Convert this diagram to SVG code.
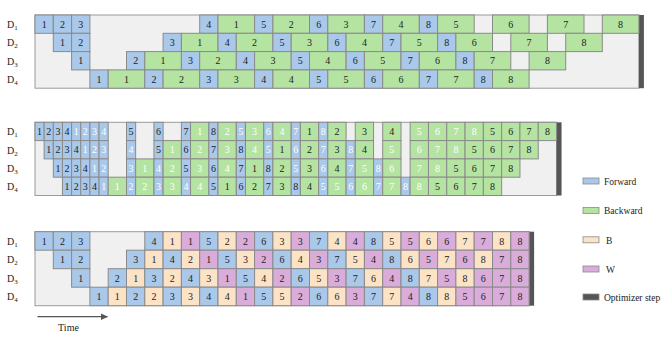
<svg xmlns="http://www.w3.org/2000/svg" width="668" height="338" viewBox="0 0 668 338" font-family="'Liberation Serif', 'Times New Roman', Times, serif">
<style>
.bg{fill:#f0f0f0;stroke:#9a9a9a;stroke-width:1}
.opt{fill:#555}
.c rect{stroke:#8a8a8a;stroke-width:1}
.F rect{fill:#a9c8ea}
.G rect{fill:#b5e3a2}
.P rect{fill:#fde3c6}
.W rect{fill:#d9acd9}
text{font-family:'Liberation Serif','Times New Roman',Times,serif;font-size:10px;text-anchor:middle;fill:#222}
.w text{fill:#fff}
.lab text,.leg text{text-anchor:start}
.leg text{font-size:9.5px}
.leg rect{stroke:#8a8a8a;stroke-width:0.8}
</style>
<defs>
<marker id="ah" markerWidth="8" markerHeight="8" refX="7" refY="4" orient="auto" markerUnits="userSpaceOnUse"><path d="M0,0.5 L7.5,4 L0,7.5 Z" fill="#555"/></marker>
</defs>

<!-- Panel 1 -->
<g id="panel1">
<rect class="bg" x="35" y="15" width="603.9" height="73.2"/>
<rect class="opt" x="638.9" y="15" width="5" height="73.2"/>
</g>
<g id="p1-labels" class="lab">
<text x="7" y="28">D<tspan font-size="7" dy="2">1</tspan></text>
<text x="7" y="46.3">D<tspan font-size="7" dy="2">2</tspan></text>
<text x="7" y="64.6">D<tspan font-size="7" dy="2">3</tspan></text>
<text x="7" y="82.9">D<tspan font-size="7" dy="2">4</tspan></text>
</g>
<!-- D1 -->
<g id="p1-d1-f1" class="c F"><rect x="35" y="15" width="18.3" height="18.3"/><text x="44.15" y="27.7">1</text></g>
<g id="p1-d1-f2" class="c F"><rect x="53.3" y="15" width="18.3" height="18.3"/><text x="62.45" y="27.7">2</text></g>
<g id="p1-d1-f3" class="c F"><rect x="71.6" y="15" width="18.3" height="18.3"/><text x="80.75" y="27.7">3</text></g>
<g id="p1-d1-f4" class="c F"><rect x="199.7" y="15" width="18.3" height="18.3"/><text x="208.85" y="27.7">4</text></g>
<g id="p1-d1-b1" class="c G"><rect x="218" y="15" width="36.6" height="18.3"/><text x="236.3" y="27.7">1</text></g>
<g id="p1-d1-f5" class="c F"><rect x="254.6" y="15" width="18.3" height="18.3"/><text x="263.75" y="27.7">5</text></g>
<g id="p1-d1-b2" class="c G"><rect x="272.9" y="15" width="36.6" height="18.3"/><text x="291.2" y="27.7">2</text></g>
<g id="p1-d1-f6" class="c F"><rect x="309.5" y="15" width="18.3" height="18.3"/><text x="318.65" y="27.7">6</text></g>
<g id="p1-d1-b3" class="c G"><rect x="327.8" y="15" width="36.6" height="18.3"/><text x="346.1" y="27.7">3</text></g>
<g id="p1-d1-f7" class="c F"><rect x="364.4" y="15" width="18.3" height="18.3"/><text x="373.55" y="27.7">7</text></g>
<g id="p1-d1-b4" class="c G"><rect x="382.7" y="15" width="36.6" height="18.3"/><text x="401" y="27.7">4</text></g>
<g id="p1-d1-f8" class="c F"><rect x="419.3" y="15" width="18.3" height="18.3"/><text x="428.45" y="27.7">8</text></g>
<g id="p1-d1-b5" class="c G"><rect x="437.6" y="15" width="36.6" height="18.3"/><text x="455.9" y="27.7">5</text></g>
<g id="p1-d1-b6" class="c G"><rect x="492.5" y="15" width="36.6" height="18.3"/><text x="510.8" y="27.7">6</text></g>
<g id="p1-d1-b7" class="c G"><rect x="547.4" y="15" width="36.6" height="18.3"/><text x="565.7" y="27.7">7</text></g>
<g id="p1-d1-b8" class="c G"><rect x="602.3" y="15" width="36.6" height="18.3"/><text x="620.6" y="27.7">8</text></g>
<!-- D2 -->
<g id="p1-d2-f1" class="c F"><rect x="53.3" y="33.3" width="18.3" height="18.3"/><text x="62.45" y="46">1</text></g>
<g id="p1-d2-f2" class="c F"><rect x="71.6" y="33.3" width="18.3" height="18.3"/><text x="80.75" y="46">2</text></g>
<g id="p1-d2-f3" class="c F"><rect x="163.1" y="33.3" width="18.3" height="18.3"/><text x="172.25" y="46">3</text></g>
<g id="p1-d2-b1" class="c G"><rect x="181.4" y="33.3" width="36.6" height="18.3"/><text x="199.7" y="46">1</text></g>
<g id="p1-d2-f4" class="c F"><rect x="218" y="33.3" width="18.3" height="18.3"/><text x="227.15" y="46">4</text></g>
<g id="p1-d2-b2" class="c G"><rect x="236.3" y="33.3" width="36.6" height="18.3"/><text x="254.6" y="46">2</text></g>
<g id="p1-d2-f5" class="c F"><rect x="272.9" y="33.3" width="18.3" height="18.3"/><text x="282.05" y="46">5</text></g>
<g id="p1-d2-b3" class="c G"><rect x="291.2" y="33.3" width="36.6" height="18.3"/><text x="309.5" y="46">3</text></g>
<g id="p1-d2-f6" class="c F"><rect x="327.8" y="33.3" width="18.3" height="18.3"/><text x="336.95" y="46">6</text></g>
<g id="p1-d2-b4" class="c G"><rect x="346.1" y="33.3" width="36.6" height="18.3"/><text x="364.4" y="46">4</text></g>
<g id="p1-d2-f7" class="c F"><rect x="382.7" y="33.3" width="18.3" height="18.3"/><text x="391.85" y="46">7</text></g>
<g id="p1-d2-b5" class="c G"><rect x="401" y="33.3" width="36.6" height="18.3"/><text x="419.3" y="46">5</text></g>
<g id="p1-d2-f8" class="c F"><rect x="437.6" y="33.3" width="18.3" height="18.3"/><text x="446.75" y="46">8</text></g>
<g id="p1-d2-b6" class="c G"><rect x="455.9" y="33.3" width="36.6" height="18.3"/><text x="474.2" y="46">6</text></g>
<g id="p1-d2-b7" class="c G"><rect x="510.8" y="33.3" width="36.6" height="18.3"/><text x="529.1" y="46">7</text></g>
<g id="p1-d2-b8" class="c G"><rect x="565.7" y="33.3" width="36.6" height="18.3"/><text x="584" y="46">8</text></g>
<!-- D3 -->
<g id="p1-d3-f1" class="c F"><rect x="71.6" y="51.6" width="18.3" height="18.3"/><text x="80.75" y="64.3">1</text></g>
<g id="p1-d3-f2" class="c F"><rect x="126.5" y="51.6" width="18.3" height="18.3"/><text x="135.65" y="64.3">2</text></g>
<g id="p1-d3-b1" class="c G"><rect x="144.8" y="51.6" width="36.6" height="18.3"/><text x="163.1" y="64.3">1</text></g>
<g id="p1-d3-f3" class="c F"><rect x="181.4" y="51.6" width="18.3" height="18.3"/><text x="190.55" y="64.3">3</text></g>
<g id="p1-d3-b2" class="c G"><rect x="199.7" y="51.6" width="36.6" height="18.3"/><text x="218" y="64.3">2</text></g>
<g id="p1-d3-f4" class="c F"><rect x="236.3" y="51.6" width="18.3" height="18.3"/><text x="245.45" y="64.3">4</text></g>
<g id="p1-d3-b3" class="c G"><rect x="254.6" y="51.6" width="36.6" height="18.3"/><text x="272.9" y="64.3">3</text></g>
<g id="p1-d3-f5" class="c F"><rect x="291.2" y="51.6" width="18.3" height="18.3"/><text x="300.35" y="64.3">5</text></g>
<g id="p1-d3-b4" class="c G"><rect x="309.5" y="51.6" width="36.6" height="18.3"/><text x="327.8" y="64.3">4</text></g>
<g id="p1-d3-f6" class="c F"><rect x="346.1" y="51.6" width="18.3" height="18.3"/><text x="355.25" y="64.3">6</text></g>
<g id="p1-d3-b5" class="c G"><rect x="364.4" y="51.6" width="36.6" height="18.3"/><text x="382.7" y="64.3">5</text></g>
<g id="p1-d3-f7" class="c F"><rect x="401" y="51.6" width="18.3" height="18.3"/><text x="410.15" y="64.3">7</text></g>
<g id="p1-d3-b6" class="c G"><rect x="419.3" y="51.6" width="36.6" height="18.3"/><text x="437.6" y="64.3">6</text></g>
<g id="p1-d3-f8" class="c F"><rect x="455.9" y="51.6" width="18.3" height="18.3"/><text x="465.05" y="64.3">8</text></g>
<g id="p1-d3-b7" class="c G"><rect x="474.2" y="51.6" width="36.6" height="18.3"/><text x="492.5" y="64.3">7</text></g>
<g id="p1-d3-b8" class="c G"><rect x="529.1" y="51.6" width="36.6" height="18.3"/><text x="547.4" y="64.3">8</text></g>
<!-- D4 -->
<g id="p1-d4-f1" class="c F"><rect x="89.9" y="69.9" width="18.3" height="18.3"/><text x="99.05" y="82.6">1</text></g>
<g id="p1-d4-b1" class="c G"><rect x="108.2" y="69.9" width="36.6" height="18.3"/><text x="126.5" y="82.6">1</text></g>
<g id="p1-d4-f2" class="c F"><rect x="144.8" y="69.9" width="18.3" height="18.3"/><text x="153.95" y="82.6">2</text></g>
<g id="p1-d4-b2" class="c G"><rect x="163.1" y="69.9" width="36.6" height="18.3"/><text x="181.4" y="82.6">2</text></g>
<g id="p1-d4-f3" class="c F"><rect x="199.7" y="69.9" width="18.3" height="18.3"/><text x="208.85" y="82.6">3</text></g>
<g id="p1-d4-b3" class="c G"><rect x="218" y="69.9" width="36.6" height="18.3"/><text x="236.3" y="82.6">3</text></g>
<g id="p1-d4-f4" class="c F"><rect x="254.6" y="69.9" width="18.3" height="18.3"/><text x="263.75" y="82.6">4</text></g>
<g id="p1-d4-b4" class="c G"><rect x="272.9" y="69.9" width="36.6" height="18.3"/><text x="291.2" y="82.6">4</text></g>
<g id="p1-d4-f5" class="c F"><rect x="309.5" y="69.9" width="18.3" height="18.3"/><text x="318.65" y="82.6">5</text></g>
<g id="p1-d4-b5" class="c G"><rect x="327.8" y="69.9" width="36.6" height="18.3"/><text x="346.1" y="82.6">5</text></g>
<g id="p1-d4-f6" class="c F"><rect x="364.4" y="69.9" width="18.3" height="18.3"/><text x="373.55" y="82.6">6</text></g>
<g id="p1-d4-b6" class="c G"><rect x="382.7" y="69.9" width="36.6" height="18.3"/><text x="401" y="82.6">6</text></g>
<g id="p1-d4-f7" class="c F"><rect x="419.3" y="69.9" width="18.3" height="18.3"/><text x="428.45" y="82.6">7</text></g>
<g id="p1-d4-b7" class="c G"><rect x="437.6" y="69.9" width="36.6" height="18.3"/><text x="455.9" y="82.6">7</text></g>
<g id="p1-d4-f8" class="c F"><rect x="474.2" y="69.9" width="18.3" height="18.3"/><text x="483.35" y="82.6">8</text></g>
<g id="p1-d4-b8" class="c G"><rect x="492.5" y="69.9" width="36.6" height="18.3"/><text x="510.8" y="82.6">8</text></g>

<!-- Panel 2 -->
<g id="panel2">
<rect class="bg" x="35" y="122.3" width="521.55" height="73.2"/>
<rect class="opt" x="556.55" y="122.3" width="5" height="73.2"/>
</g>
<g id="p2-labels" class="lab">
<text x="7" y="135.3">D<tspan font-size="7" dy="2">1</tspan></text>
<text x="7" y="153.6">D<tspan font-size="7" dy="2">2</tspan></text>
<text x="7" y="171.9">D<tspan font-size="7" dy="2">3</tspan></text>
<text x="7" y="190.2">D<tspan font-size="7" dy="2">4</tspan></text>
</g>
<!-- D1 -->
<g id="p2-d1-f1a" class="c F"><rect x="35" y="122.3" width="9.15" height="18.3"/><text x="39.58" y="135">1</text></g>
<g id="p2-d1-f2a" class="c F"><rect x="44.15" y="122.3" width="9.15" height="18.3"/><text x="48.73" y="135">2</text></g>
<g id="p2-d1-f3a" class="c F"><rect x="53.3" y="122.3" width="9.15" height="18.3"/><text x="57.88" y="135">3</text></g>
<g id="p2-d1-f4a" class="c F"><rect x="62.45" y="122.3" width="9.15" height="18.3"/><text x="67.03" y="135">4</text></g>
<g id="p2-d1-f1b" class="c F w"><rect x="71.6" y="122.3" width="9.15" height="18.3"/><text x="76.18" y="135">1</text></g>
<g id="p2-d1-f2b" class="c F w"><rect x="80.75" y="122.3" width="9.15" height="18.3"/><text x="85.33" y="135">2</text></g>
<g id="p2-d1-f3b" class="c F w"><rect x="89.9" y="122.3" width="9.15" height="18.3"/><text x="94.48" y="135">3</text></g>
<g id="p2-d1-f4b" class="c F w"><rect x="99.05" y="122.3" width="9.15" height="18.3"/><text x="103.63" y="135">4</text></g>
<g id="p2-d1-f5a" class="c F"><rect x="126.5" y="122.3" width="9.15" height="18.3"/><text x="131.08" y="135">5</text></g>
<g id="p2-d1-f6a" class="c F"><rect x="153.95" y="122.3" width="9.15" height="18.3"/><text x="158.53" y="135">6</text></g>
<g id="p2-d1-f7a" class="c F"><rect x="181.4" y="122.3" width="9.15" height="18.3"/><text x="185.98" y="135">7</text></g>
<g id="p2-d1-b1b" class="c G w"><rect x="190.55" y="122.3" width="18.3" height="18.3"/><text x="199.7" y="135">1</text></g>
<g id="p2-d1-f8a" class="c F"><rect x="208.85" y="122.3" width="9.15" height="18.3"/><text x="213.43" y="135">8</text></g>
<g id="p2-d1-b2b" class="c G w"><rect x="218" y="122.3" width="18.3" height="18.3"/><text x="227.15" y="135">2</text></g>
<g id="p2-d1-f5b" class="c F w"><rect x="236.3" y="122.3" width="9.15" height="18.3"/><text x="240.88" y="135">5</text></g>
<g id="p2-d1-b3b" class="c G w"><rect x="245.45" y="122.3" width="18.3" height="18.3"/><text x="254.6" y="135">3</text></g>
<g id="p2-d1-f6b" class="c F w"><rect x="263.75" y="122.3" width="9.15" height="18.3"/><text x="268.33" y="135">6</text></g>
<g id="p2-d1-b4b" class="c G w"><rect x="272.9" y="122.3" width="18.3" height="18.3"/><text x="282.05" y="135">4</text></g>
<g id="p2-d1-f7b" class="c F w"><rect x="291.2" y="122.3" width="9.15" height="18.3"/><text x="295.78" y="135">7</text></g>
<g id="p2-d1-b1a" class="c G"><rect x="300.35" y="122.3" width="18.3" height="18.3"/><text x="309.5" y="135">1</text></g>
<g id="p2-d1-f8b" class="c F w"><rect x="318.65" y="122.3" width="9.15" height="18.3"/><text x="323.23" y="135">8</text></g>
<g id="p2-d1-b2a" class="c G"><rect x="327.8" y="122.3" width="18.3" height="18.3"/><text x="336.95" y="135">2</text></g>
<g id="p2-d1-b3a" class="c G"><rect x="355.25" y="122.3" width="18.3" height="18.3"/><text x="364.4" y="135">3</text></g>
<g id="p2-d1-b4a" class="c G"><rect x="382.7" y="122.3" width="18.3" height="18.3"/><text x="391.85" y="135">4</text></g>
<g id="p2-d1-b5b" class="c G w"><rect x="410.15" y="122.3" width="18.3" height="18.3"/><text x="419.3" y="135">5</text></g>
<g id="p2-d1-b6b" class="c G w"><rect x="428.45" y="122.3" width="18.3" height="18.3"/><text x="437.6" y="135">6</text></g>
<g id="p2-d1-b7b" class="c G w"><rect x="446.75" y="122.3" width="18.3" height="18.3"/><text x="455.9" y="135">7</text></g>
<g id="p2-d1-b8b" class="c G w"><rect x="465.05" y="122.3" width="18.3" height="18.3"/><text x="474.2" y="135">8</text></g>
<g id="p2-d1-b5a" class="c G"><rect x="483.35" y="122.3" width="18.3" height="18.3"/><text x="492.5" y="135">5</text></g>
<g id="p2-d1-b6a" class="c G"><rect x="501.65" y="122.3" width="18.3" height="18.3"/><text x="510.8" y="135">6</text></g>
<g id="p2-d1-b7a" class="c G"><rect x="519.95" y="122.3" width="18.3" height="18.3"/><text x="529.1" y="135">7</text></g>
<g id="p2-d1-b8a" class="c G"><rect x="538.25" y="122.3" width="18.3" height="18.3"/><text x="547.4" y="135">8</text></g>
<!-- D2 -->
<g id="p2-d2-f1a" class="c F"><rect x="44.15" y="140.6" width="9.15" height="18.3"/><text x="48.73" y="153.3">1</text></g>
<g id="p2-d2-f2a" class="c F"><rect x="53.3" y="140.6" width="9.15" height="18.3"/><text x="57.88" y="153.3">2</text></g>
<g id="p2-d2-f3a" class="c F"><rect x="62.45" y="140.6" width="9.15" height="18.3"/><text x="67.03" y="153.3">3</text></g>
<g id="p2-d2-f4a" class="c F"><rect x="71.6" y="140.6" width="9.15" height="18.3"/><text x="76.18" y="153.3">4</text></g>
<g id="p2-d2-f1b" class="c F w"><rect x="80.75" y="140.6" width="9.15" height="18.3"/><text x="85.33" y="153.3">1</text></g>
<g id="p2-d2-f2b" class="c F w"><rect x="89.9" y="140.6" width="9.15" height="18.3"/><text x="94.48" y="153.3">2</text></g>
<g id="p2-d2-f3b" class="c F w"><rect x="99.05" y="140.6" width="9.15" height="18.3"/><text x="103.63" y="153.3">3</text></g>
<g id="p2-d2-f4b" class="c F w"><rect x="126.5" y="140.6" width="9.15" height="18.3"/><text x="131.08" y="153.3">4</text></g>
<g id="p2-d2-f5a" class="c F"><rect x="153.95" y="140.6" width="9.15" height="18.3"/><text x="158.53" y="153.3">5</text></g>
<g id="p2-d2-b1b" class="c G w"><rect x="163.1" y="140.6" width="18.3" height="18.3"/><text x="172.25" y="153.3">1</text></g>
<g id="p2-d2-f6a" class="c F"><rect x="181.4" y="140.6" width="9.15" height="18.3"/><text x="185.98" y="153.3">6</text></g>
<g id="p2-d2-b2b" class="c G w"><rect x="190.55" y="140.6" width="18.3" height="18.3"/><text x="199.7" y="153.3">2</text></g>
<g id="p2-d2-f7a" class="c F"><rect x="208.85" y="140.6" width="9.15" height="18.3"/><text x="213.43" y="153.3">7</text></g>
<g id="p2-d2-b3b" class="c G w"><rect x="218" y="140.6" width="18.3" height="18.3"/><text x="227.15" y="153.3">3</text></g>
<g id="p2-d2-f8a" class="c F"><rect x="236.3" y="140.6" width="9.15" height="18.3"/><text x="240.88" y="153.3">8</text></g>
<g id="p2-d2-b4b" class="c G w"><rect x="245.45" y="140.6" width="18.3" height="18.3"/><text x="254.6" y="153.3">4</text></g>
<g id="p2-d2-f5b" class="c F w"><rect x="263.75" y="140.6" width="9.15" height="18.3"/><text x="268.33" y="153.3">5</text></g>
<g id="p2-d2-b1a" class="c G"><rect x="272.9" y="140.6" width="18.3" height="18.3"/><text x="282.05" y="153.3">1</text></g>
<g id="p2-d2-f6b" class="c F w"><rect x="291.2" y="140.6" width="9.15" height="18.3"/><text x="295.78" y="153.3">6</text></g>
<g id="p2-d2-b2a" class="c G"><rect x="300.35" y="140.6" width="18.3" height="18.3"/><text x="309.5" y="153.3">2</text></g>
<g id="p2-d2-f7b" class="c F w"><rect x="318.65" y="140.6" width="9.15" height="18.3"/><text x="323.23" y="153.3">7</text></g>
<g id="p2-d2-b3a" class="c G"><rect x="327.8" y="140.6" width="18.3" height="18.3"/><text x="336.95" y="153.3">3</text></g>
<g id="p2-d2-f8b" class="c F w"><rect x="346.1" y="140.6" width="9.15" height="18.3"/><text x="350.68" y="153.3">8</text></g>
<g id="p2-d2-b4a" class="c G"><rect x="355.25" y="140.6" width="18.3" height="18.3"/><text x="364.4" y="153.3">4</text></g>
<g id="p2-d2-b5b" class="c G w"><rect x="382.7" y="140.6" width="18.3" height="18.3"/><text x="391.85" y="153.3">5</text></g>
<g id="p2-d2-b6b" class="c G w"><rect x="410.15" y="140.6" width="18.3" height="18.3"/><text x="419.3" y="153.3">6</text></g>
<g id="p2-d2-b7b" class="c G w"><rect x="428.45" y="140.6" width="18.3" height="18.3"/><text x="437.6" y="153.3">7</text></g>
<g id="p2-d2-b8b" class="c G w"><rect x="446.75" y="140.6" width="18.3" height="18.3"/><text x="455.9" y="153.3">8</text></g>
<g id="p2-d2-b5a" class="c G"><rect x="465.05" y="140.6" width="18.3" height="18.3"/><text x="474.2" y="153.3">5</text></g>
<g id="p2-d2-b6a" class="c G"><rect x="483.35" y="140.6" width="18.3" height="18.3"/><text x="492.5" y="153.3">6</text></g>
<g id="p2-d2-b7a" class="c G"><rect x="501.65" y="140.6" width="18.3" height="18.3"/><text x="510.8" y="153.3">7</text></g>
<g id="p2-d2-b8a" class="c G"><rect x="519.95" y="140.6" width="18.3" height="18.3"/><text x="529.1" y="153.3">8</text></g>
<!-- D3 -->
<g id="p2-d3-f1a" class="c F"><rect x="53.3" y="158.9" width="9.15" height="18.3"/><text x="57.88" y="171.6">1</text></g>
<g id="p2-d3-f2a" class="c F"><rect x="62.45" y="158.9" width="9.15" height="18.3"/><text x="67.03" y="171.6">2</text></g>
<g id="p2-d3-f3a" class="c F"><rect x="71.6" y="158.9" width="9.15" height="18.3"/><text x="76.18" y="171.6">3</text></g>
<g id="p2-d3-f4a" class="c F"><rect x="80.75" y="158.9" width="9.15" height="18.3"/><text x="85.33" y="171.6">4</text></g>
<g id="p2-d3-f1b" class="c F w"><rect x="89.9" y="158.9" width="9.15" height="18.3"/><text x="94.48" y="171.6">1</text></g>
<g id="p2-d3-f2b" class="c F w"><rect x="99.05" y="158.9" width="9.15" height="18.3"/><text x="103.63" y="171.6">2</text></g>
<g id="p2-d3-f3b" class="c F w"><rect x="126.5" y="158.9" width="9.15" height="18.3"/><text x="131.08" y="171.6">3</text></g>
<g id="p2-d3-b1b" class="c G w"><rect x="135.65" y="158.9" width="18.3" height="18.3"/><text x="144.8" y="171.6">1</text></g>
<g id="p2-d3-f4b" class="c F w"><rect x="153.95" y="158.9" width="9.15" height="18.3"/><text x="158.53" y="171.6">4</text></g>
<g id="p2-d3-b2b" class="c G w"><rect x="163.1" y="158.9" width="18.3" height="18.3"/><text x="172.25" y="171.6">2</text></g>
<g id="p2-d3-f5a" class="c F"><rect x="181.4" y="158.9" width="9.15" height="18.3"/><text x="185.98" y="171.6">5</text></g>
<g id="p2-d3-b3b" class="c G w"><rect x="190.55" y="158.9" width="18.3" height="18.3"/><text x="199.7" y="171.6">3</text></g>
<g id="p2-d3-f6a" class="c F"><rect x="208.85" y="158.9" width="9.15" height="18.3"/><text x="213.43" y="171.6">6</text></g>
<g id="p2-d3-b4b" class="c G w"><rect x="218" y="158.9" width="18.3" height="18.3"/><text x="227.15" y="171.6">4</text></g>
<g id="p2-d3-f7a" class="c F"><rect x="236.3" y="158.9" width="9.15" height="18.3"/><text x="240.88" y="171.6">7</text></g>
<g id="p2-d3-b1a" class="c G"><rect x="245.45" y="158.9" width="18.3" height="18.3"/><text x="254.6" y="171.6">1</text></g>
<g id="p2-d3-f8a" class="c F"><rect x="263.75" y="158.9" width="9.15" height="18.3"/><text x="268.33" y="171.6">8</text></g>
<g id="p2-d3-b2a" class="c G"><rect x="272.9" y="158.9" width="18.3" height="18.3"/><text x="282.05" y="171.6">2</text></g>
<g id="p2-d3-f5b" class="c F w"><rect x="291.2" y="158.9" width="9.15" height="18.3"/><text x="295.78" y="171.6">5</text></g>
<g id="p2-d3-b3a" class="c G"><rect x="300.35" y="158.9" width="18.3" height="18.3"/><text x="309.5" y="171.6">3</text></g>
<g id="p2-d3-f6b" class="c F w"><rect x="318.65" y="158.9" width="9.15" height="18.3"/><text x="323.23" y="171.6">6</text></g>
<g id="p2-d3-b4a" class="c G"><rect x="327.8" y="158.9" width="18.3" height="18.3"/><text x="336.95" y="171.6">4</text></g>
<g id="p2-d3-f7b" class="c F w"><rect x="346.1" y="158.9" width="9.15" height="18.3"/><text x="350.68" y="171.6">7</text></g>
<g id="p2-d3-b5b" class="c G w"><rect x="355.25" y="158.9" width="18.3" height="18.3"/><text x="364.4" y="171.6">5</text></g>
<g id="p2-d3-f8b" class="c F w"><rect x="373.55" y="158.9" width="9.15" height="18.3"/><text x="378.13" y="171.6">8</text></g>
<g id="p2-d3-b6b" class="c G w"><rect x="382.7" y="158.9" width="18.3" height="18.3"/><text x="391.85" y="171.6">6</text></g>
<g id="p2-d3-b7b" class="c G w"><rect x="410.15" y="158.9" width="18.3" height="18.3"/><text x="419.3" y="171.6">7</text></g>
<g id="p2-d3-b8b" class="c G w"><rect x="428.45" y="158.9" width="18.3" height="18.3"/><text x="437.6" y="171.6">8</text></g>
<g id="p2-d3-b5a" class="c G"><rect x="446.75" y="158.9" width="18.3" height="18.3"/><text x="455.9" y="171.6">5</text></g>
<g id="p2-d3-b6a" class="c G"><rect x="465.05" y="158.9" width="18.3" height="18.3"/><text x="474.2" y="171.6">6</text></g>
<g id="p2-d3-b7a" class="c G"><rect x="483.35" y="158.9" width="18.3" height="18.3"/><text x="492.5" y="171.6">7</text></g>
<g id="p2-d3-b8a" class="c G"><rect x="501.65" y="158.9" width="18.3" height="18.3"/><text x="510.8" y="171.6">8</text></g>
<!-- D4 -->
<g id="p2-d4-f1a" class="c F"><rect x="62.45" y="177.2" width="9.15" height="18.3"/><text x="67.03" y="189.9">1</text></g>
<g id="p2-d4-f2a" class="c F"><rect x="71.6" y="177.2" width="9.15" height="18.3"/><text x="76.18" y="189.9">2</text></g>
<g id="p2-d4-f3a" class="c F"><rect x="80.75" y="177.2" width="9.15" height="18.3"/><text x="85.33" y="189.9">3</text></g>
<g id="p2-d4-f4a" class="c F"><rect x="89.9" y="177.2" width="9.15" height="18.3"/><text x="94.48" y="189.9">4</text></g>
<g id="p2-d4-f1b" class="c F w"><rect x="99.05" y="177.2" width="9.15" height="18.3"/><text x="103.63" y="189.9">1</text></g>
<g id="p2-d4-b1b" class="c G w"><rect x="108.2" y="177.2" width="18.3" height="18.3"/><text x="117.35" y="189.9">1</text></g>
<g id="p2-d4-f2b" class="c F w"><rect x="126.5" y="177.2" width="9.15" height="18.3"/><text x="131.08" y="189.9">2</text></g>
<g id="p2-d4-b2b" class="c G w"><rect x="135.65" y="177.2" width="18.3" height="18.3"/><text x="144.8" y="189.9">2</text></g>
<g id="p2-d4-f3b" class="c F w"><rect x="153.95" y="177.2" width="9.15" height="18.3"/><text x="158.53" y="189.9">3</text></g>
<g id="p2-d4-b3b" class="c G w"><rect x="163.1" y="177.2" width="18.3" height="18.3"/><text x="172.25" y="189.9">3</text></g>
<g id="p2-d4-f4b" class="c F w"><rect x="181.4" y="177.2" width="9.15" height="18.3"/><text x="185.98" y="189.9">4</text></g>
<g id="p2-d4-b4b" class="c G w"><rect x="190.55" y="177.2" width="18.3" height="18.3"/><text x="199.7" y="189.9">4</text></g>
<g id="p2-d4-f5a" class="c F"><rect x="208.85" y="177.2" width="9.15" height="18.3"/><text x="213.43" y="189.9">5</text></g>
<g id="p2-d4-b1a" class="c G"><rect x="218" y="177.2" width="18.3" height="18.3"/><text x="227.15" y="189.9">1</text></g>
<g id="p2-d4-f6a" class="c F"><rect x="236.3" y="177.2" width="9.15" height="18.3"/><text x="240.88" y="189.9">6</text></g>
<g id="p2-d4-b2a" class="c G"><rect x="245.45" y="177.2" width="18.3" height="18.3"/><text x="254.6" y="189.9">2</text></g>
<g id="p2-d4-f7a" class="c F"><rect x="263.75" y="177.2" width="9.15" height="18.3"/><text x="268.33" y="189.9">7</text></g>
<g id="p2-d4-b3a" class="c G"><rect x="272.9" y="177.2" width="18.3" height="18.3"/><text x="282.05" y="189.9">3</text></g>
<g id="p2-d4-f8a" class="c F"><rect x="291.2" y="177.2" width="9.15" height="18.3"/><text x="295.78" y="189.9">8</text></g>
<g id="p2-d4-b4a" class="c G"><rect x="300.35" y="177.2" width="18.3" height="18.3"/><text x="309.5" y="189.9">4</text></g>
<g id="p2-d4-f5b" class="c F w"><rect x="318.65" y="177.2" width="9.15" height="18.3"/><text x="323.23" y="189.9">5</text></g>
<g id="p2-d4-b5b" class="c G w"><rect x="327.8" y="177.2" width="18.3" height="18.3"/><text x="336.95" y="189.9">5</text></g>
<g id="p2-d4-f6b" class="c F w"><rect x="346.1" y="177.2" width="9.15" height="18.3"/><text x="350.68" y="189.9">6</text></g>
<g id="p2-d4-b6b" class="c G w"><rect x="355.25" y="177.2" width="18.3" height="18.3"/><text x="364.4" y="189.9">6</text></g>
<g id="p2-d4-f7b" class="c F w"><rect x="373.55" y="177.2" width="9.15" height="18.3"/><text x="378.13" y="189.9">7</text></g>
<g id="p2-d4-b7b" class="c G w"><rect x="382.7" y="177.2" width="18.3" height="18.3"/><text x="391.85" y="189.9">7</text></g>
<g id="p2-d4-f8b" class="c F w"><rect x="401" y="177.2" width="9.15" height="18.3"/><text x="405.58" y="189.9">8</text></g>
<g id="p2-d4-b8b" class="c G w"><rect x="410.15" y="177.2" width="18.3" height="18.3"/><text x="419.3" y="189.9">8</text></g>
<g id="p2-d4-b5a" class="c G"><rect x="428.45" y="177.2" width="18.3" height="18.3"/><text x="437.6" y="189.9">5</text></g>
<g id="p2-d4-b6a" class="c G"><rect x="446.75" y="177.2" width="18.3" height="18.3"/><text x="455.9" y="189.9">6</text></g>
<g id="p2-d4-b7a" class="c G"><rect x="465.05" y="177.2" width="18.3" height="18.3"/><text x="474.2" y="189.9">7</text></g>
<g id="p2-d4-b8a" class="c G"><rect x="483.35" y="177.2" width="18.3" height="18.3"/><text x="492.5" y="189.9">8</text></g>

<!-- Panel 3 -->
<g id="panel3">
<rect class="bg" x="35" y="231.7" width="494.1" height="74"/>
<rect class="opt" x="529.1" y="231.7" width="5" height="74"/>
</g>
<g id="p3-labels" class="lab">
<text x="7" y="244.8">D<tspan font-size="7" dy="2">1</tspan></text>
<text x="7" y="263.3">D<tspan font-size="7" dy="2">2</tspan></text>
<text x="7" y="281.8">D<tspan font-size="7" dy="2">3</tspan></text>
<text x="7" y="300.3">D<tspan font-size="7" dy="2">4</tspan></text>
</g>
<!-- D1 -->
<g id="p3-d1-f1" class="c F"><rect x="35" y="231.7" width="18.3" height="18.5"/><text x="44.15" y="244.6">1</text></g>
<g id="p3-d1-f2" class="c F"><rect x="53.3" y="231.7" width="18.3" height="18.5"/><text x="62.45" y="244.6">2</text></g>
<g id="p3-d1-f3" class="c F"><rect x="71.6" y="231.7" width="18.3" height="18.5"/><text x="80.75" y="244.6">3</text></g>
<g id="p3-d1-f4" class="c F"><rect x="144.8" y="231.7" width="18.3" height="18.5"/><text x="153.95" y="244.6">4</text></g>
<g id="p3-d1-b1" class="c P"><rect x="163.1" y="231.7" width="18.3" height="18.5"/><text x="172.25" y="244.6">1</text></g>
<g id="p3-d1-w1" class="c W"><rect x="181.4" y="231.7" width="18.3" height="18.5"/><text x="190.55" y="244.6">1</text></g>
<g id="p3-d1-f5" class="c F"><rect x="199.7" y="231.7" width="18.3" height="18.5"/><text x="208.85" y="244.6">5</text></g>
<g id="p3-d1-b2" class="c P"><rect x="218" y="231.7" width="18.3" height="18.5"/><text x="227.15" y="244.6">2</text></g>
<g id="p3-d1-w2" class="c W"><rect x="236.3" y="231.7" width="18.3" height="18.5"/><text x="245.45" y="244.6">2</text></g>
<g id="p3-d1-f6" class="c F"><rect x="254.6" y="231.7" width="18.3" height="18.5"/><text x="263.75" y="244.6">6</text></g>
<g id="p3-d1-b3" class="c P"><rect x="272.9" y="231.7" width="18.3" height="18.5"/><text x="282.05" y="244.6">3</text></g>
<g id="p3-d1-w3" class="c W"><rect x="291.2" y="231.7" width="18.3" height="18.5"/><text x="300.35" y="244.6">3</text></g>
<g id="p3-d1-f7" class="c F"><rect x="309.5" y="231.7" width="18.3" height="18.5"/><text x="318.65" y="244.6">7</text></g>
<g id="p3-d1-b4" class="c P"><rect x="327.8" y="231.7" width="18.3" height="18.5"/><text x="336.95" y="244.6">4</text></g>
<g id="p3-d1-w4" class="c W"><rect x="346.1" y="231.7" width="18.3" height="18.5"/><text x="355.25" y="244.6">4</text></g>
<g id="p3-d1-f8" class="c F"><rect x="364.4" y="231.7" width="18.3" height="18.5"/><text x="373.55" y="244.6">8</text></g>
<g id="p3-d1-b5" class="c P"><rect x="382.7" y="231.7" width="18.3" height="18.5"/><text x="391.85" y="244.6">5</text></g>
<g id="p3-d1-w5" class="c W"><rect x="401" y="231.7" width="18.3" height="18.5"/><text x="410.15" y="244.6">5</text></g>
<g id="p3-d1-b6" class="c P"><rect x="419.3" y="231.7" width="18.3" height="18.5"/><text x="428.45" y="244.6">6</text></g>
<g id="p3-d1-w6" class="c W"><rect x="437.6" y="231.7" width="18.3" height="18.5"/><text x="446.75" y="244.6">6</text></g>
<g id="p3-d1-b7" class="c P"><rect x="455.9" y="231.7" width="18.3" height="18.5"/><text x="465.05" y="244.6">7</text></g>
<g id="p3-d1-w7" class="c W"><rect x="474.2" y="231.7" width="18.3" height="18.5"/><text x="483.35" y="244.6">7</text></g>
<g id="p3-d1-b8" class="c P"><rect x="492.5" y="231.7" width="18.3" height="18.5"/><text x="501.65" y="244.6">8</text></g>
<g id="p3-d1-w8" class="c W"><rect x="510.8" y="231.7" width="18.3" height="18.5"/><text x="519.95" y="244.6">8</text></g>
<!-- D2 -->
<g id="p3-d2-f1" class="c F"><rect x="53.3" y="250.2" width="18.3" height="18.5"/><text x="62.45" y="263.1">1</text></g>
<g id="p3-d2-f2" class="c F"><rect x="71.6" y="250.2" width="18.3" height="18.5"/><text x="80.75" y="263.1">2</text></g>
<g id="p3-d2-f3" class="c F"><rect x="126.5" y="250.2" width="18.3" height="18.5"/><text x="135.65" y="263.1">3</text></g>
<g id="p3-d2-b1" class="c P"><rect x="144.8" y="250.2" width="18.3" height="18.5"/><text x="153.95" y="263.1">1</text></g>
<g id="p3-d2-f4" class="c F"><rect x="163.1" y="250.2" width="18.3" height="18.5"/><text x="172.25" y="263.1">4</text></g>
<g id="p3-d2-b2" class="c P"><rect x="181.4" y="250.2" width="18.3" height="18.5"/><text x="190.55" y="263.1">2</text></g>
<g id="p3-d2-w1" class="c W"><rect x="199.7" y="250.2" width="18.3" height="18.5"/><text x="208.85" y="263.1">1</text></g>
<g id="p3-d2-f5" class="c F"><rect x="218" y="250.2" width="18.3" height="18.5"/><text x="227.15" y="263.1">5</text></g>
<g id="p3-d2-b3" class="c P"><rect x="236.3" y="250.2" width="18.3" height="18.5"/><text x="245.45" y="263.1">3</text></g>
<g id="p3-d2-w2" class="c W"><rect x="254.6" y="250.2" width="18.3" height="18.5"/><text x="263.75" y="263.1">2</text></g>
<g id="p3-d2-f6" class="c F"><rect x="272.9" y="250.2" width="18.3" height="18.5"/><text x="282.05" y="263.1">6</text></g>
<g id="p3-d2-b4" class="c P"><rect x="291.2" y="250.2" width="18.3" height="18.5"/><text x="300.35" y="263.1">4</text></g>
<g id="p3-d2-w3" class="c W"><rect x="309.5" y="250.2" width="18.3" height="18.5"/><text x="318.65" y="263.1">3</text></g>
<g id="p3-d2-f7" class="c F"><rect x="327.8" y="250.2" width="18.3" height="18.5"/><text x="336.95" y="263.1">7</text></g>
<g id="p3-d2-b5" class="c P"><rect x="346.1" y="250.2" width="18.3" height="18.5"/><text x="355.25" y="263.1">5</text></g>
<g id="p3-d2-w4" class="c W"><rect x="364.4" y="250.2" width="18.3" height="18.5"/><text x="373.55" y="263.1">4</text></g>
<g id="p3-d2-f8" class="c F"><rect x="382.7" y="250.2" width="18.3" height="18.5"/><text x="391.85" y="263.1">8</text></g>
<g id="p3-d2-b6" class="c P"><rect x="401" y="250.2" width="18.3" height="18.5"/><text x="410.15" y="263.1">6</text></g>
<g id="p3-d2-w5" class="c W"><rect x="419.3" y="250.2" width="18.3" height="18.5"/><text x="428.45" y="263.1">5</text></g>
<g id="p3-d2-b7" class="c P"><rect x="437.6" y="250.2" width="18.3" height="18.5"/><text x="446.75" y="263.1">7</text></g>
<g id="p3-d2-w6" class="c W"><rect x="455.9" y="250.2" width="18.3" height="18.5"/><text x="465.05" y="263.1">6</text></g>
<g id="p3-d2-b8" class="c P"><rect x="474.2" y="250.2" width="18.3" height="18.5"/><text x="483.35" y="263.1">8</text></g>
<g id="p3-d2-w7" class="c W"><rect x="492.5" y="250.2" width="18.3" height="18.5"/><text x="501.65" y="263.1">7</text></g>
<g id="p3-d2-w8" class="c W"><rect x="510.8" y="250.2" width="18.3" height="18.5"/><text x="519.95" y="263.1">8</text></g>
<!-- D3 -->
<g id="p3-d3-f1" class="c F"><rect x="71.6" y="268.7" width="18.3" height="18.5"/><text x="80.75" y="281.6">1</text></g>
<g id="p3-d3-f2" class="c F"><rect x="108.2" y="268.7" width="18.3" height="18.5"/><text x="117.35" y="281.6">2</text></g>
<g id="p3-d3-b1" class="c P"><rect x="126.5" y="268.7" width="18.3" height="18.5"/><text x="135.65" y="281.6">1</text></g>
<g id="p3-d3-f3" class="c F"><rect x="144.8" y="268.7" width="18.3" height="18.5"/><text x="153.95" y="281.6">3</text></g>
<g id="p3-d3-b2" class="c P"><rect x="163.1" y="268.7" width="18.3" height="18.5"/><text x="172.25" y="281.6">2</text></g>
<g id="p3-d3-f4" class="c F"><rect x="181.4" y="268.7" width="18.3" height="18.5"/><text x="190.55" y="281.6">4</text></g>
<g id="p3-d3-b3" class="c P"><rect x="199.7" y="268.7" width="18.3" height="18.5"/><text x="208.85" y="281.6">3</text></g>
<g id="p3-d3-w1" class="c W"><rect x="218" y="268.7" width="18.3" height="18.5"/><text x="227.15" y="281.6">1</text></g>
<g id="p3-d3-f5" class="c F"><rect x="236.3" y="268.7" width="18.3" height="18.5"/><text x="245.45" y="281.6">5</text></g>
<g id="p3-d3-b4" class="c P"><rect x="254.6" y="268.7" width="18.3" height="18.5"/><text x="263.75" y="281.6">4</text></g>
<g id="p3-d3-w2" class="c W"><rect x="272.9" y="268.7" width="18.3" height="18.5"/><text x="282.05" y="281.6">2</text></g>
<g id="p3-d3-f6" class="c F"><rect x="291.2" y="268.7" width="18.3" height="18.5"/><text x="300.35" y="281.6">6</text></g>
<g id="p3-d3-b5" class="c P"><rect x="309.5" y="268.7" width="18.3" height="18.5"/><text x="318.65" y="281.6">5</text></g>
<g id="p3-d3-w3" class="c W"><rect x="327.8" y="268.7" width="18.3" height="18.5"/><text x="336.95" y="281.6">3</text></g>
<g id="p3-d3-f7" class="c F"><rect x="346.1" y="268.7" width="18.3" height="18.5"/><text x="355.25" y="281.6">7</text></g>
<g id="p3-d3-b6" class="c P"><rect x="364.4" y="268.7" width="18.3" height="18.5"/><text x="373.55" y="281.6">6</text></g>
<g id="p3-d3-w4" class="c W"><rect x="382.7" y="268.7" width="18.3" height="18.5"/><text x="391.85" y="281.6">4</text></g>
<g id="p3-d3-f8" class="c F"><rect x="401" y="268.7" width="18.3" height="18.5"/><text x="410.15" y="281.6">8</text></g>
<g id="p3-d3-b7" class="c P"><rect x="419.3" y="268.7" width="18.3" height="18.5"/><text x="428.45" y="281.6">7</text></g>
<g id="p3-d3-w5" class="c W"><rect x="437.6" y="268.7" width="18.3" height="18.5"/><text x="446.75" y="281.6">5</text></g>
<g id="p3-d3-b8" class="c P"><rect x="455.9" y="268.7" width="18.3" height="18.5"/><text x="465.05" y="281.6">8</text></g>
<g id="p3-d3-w6" class="c W"><rect x="474.2" y="268.7" width="18.3" height="18.5"/><text x="483.35" y="281.6">6</text></g>
<g id="p3-d3-w7" class="c W"><rect x="492.5" y="268.7" width="18.3" height="18.5"/><text x="501.65" y="281.6">7</text></g>
<g id="p3-d3-w8" class="c W"><rect x="510.8" y="268.7" width="18.3" height="18.5"/><text x="519.95" y="281.6">8</text></g>
<!-- D4 -->
<g id="p3-d4-f1" class="c F"><rect x="89.9" y="287.2" width="18.3" height="18.5"/><text x="99.05" y="300.1">1</text></g>
<g id="p3-d4-b1" class="c P"><rect x="108.2" y="287.2" width="18.3" height="18.5"/><text x="117.35" y="300.1">1</text></g>
<g id="p3-d4-f2" class="c F"><rect x="126.5" y="287.2" width="18.3" height="18.5"/><text x="135.65" y="300.1">2</text></g>
<g id="p3-d4-b2" class="c P"><rect x="144.8" y="287.2" width="18.3" height="18.5"/><text x="153.95" y="300.1">2</text></g>
<g id="p3-d4-f3" class="c F"><rect x="163.1" y="287.2" width="18.3" height="18.5"/><text x="172.25" y="300.1">3</text></g>
<g id="p3-d4-b3" class="c P"><rect x="181.4" y="287.2" width="18.3" height="18.5"/><text x="190.55" y="300.1">3</text></g>
<g id="p3-d4-f4" class="c F"><rect x="199.7" y="287.2" width="18.3" height="18.5"/><text x="208.85" y="300.1">4</text></g>
<g id="p3-d4-b4" class="c P"><rect x="218" y="287.2" width="18.3" height="18.5"/><text x="227.15" y="300.1">4</text></g>
<g id="p3-d4-w1" class="c W"><rect x="236.3" y="287.2" width="18.3" height="18.5"/><text x="245.45" y="300.1">1</text></g>
<g id="p3-d4-f5" class="c F"><rect x="254.6" y="287.2" width="18.3" height="18.5"/><text x="263.75" y="300.1">5</text></g>
<g id="p3-d4-b5" class="c P"><rect x="272.9" y="287.2" width="18.3" height="18.5"/><text x="282.05" y="300.1">5</text></g>
<g id="p3-d4-w2" class="c W"><rect x="291.2" y="287.2" width="18.3" height="18.5"/><text x="300.35" y="300.1">2</text></g>
<g id="p3-d4-f6" class="c F"><rect x="309.5" y="287.2" width="18.3" height="18.5"/><text x="318.65" y="300.1">6</text></g>
<g id="p3-d4-b6" class="c P"><rect x="327.8" y="287.2" width="18.3" height="18.5"/><text x="336.95" y="300.1">6</text></g>
<g id="p3-d4-w3" class="c W"><rect x="346.1" y="287.2" width="18.3" height="18.5"/><text x="355.25" y="300.1">3</text></g>
<g id="p3-d4-f7" class="c F"><rect x="364.4" y="287.2" width="18.3" height="18.5"/><text x="373.55" y="300.1">7</text></g>
<g id="p3-d4-b7" class="c P"><rect x="382.7" y="287.2" width="18.3" height="18.5"/><text x="391.85" y="300.1">7</text></g>
<g id="p3-d4-w4" class="c W"><rect x="401" y="287.2" width="18.3" height="18.5"/><text x="410.15" y="300.1">4</text></g>
<g id="p3-d4-f8" class="c F"><rect x="419.3" y="287.2" width="18.3" height="18.5"/><text x="428.45" y="300.1">8</text></g>
<g id="p3-d4-b8" class="c P"><rect x="437.6" y="287.2" width="18.3" height="18.5"/><text x="446.75" y="300.1">8</text></g>
<g id="p3-d4-w5" class="c W"><rect x="455.9" y="287.2" width="18.3" height="18.5"/><text x="465.05" y="300.1">5</text></g>
<g id="p3-d4-w6" class="c W"><rect x="474.2" y="287.2" width="18.3" height="18.5"/><text x="483.35" y="300.1">6</text></g>
<g id="p3-d4-w7" class="c W"><rect x="492.5" y="287.2" width="18.3" height="18.5"/><text x="501.65" y="300.1">7</text></g>
<g id="p3-d4-w8" class="c W"><rect x="510.8" y="287.2" width="18.3" height="18.5"/><text x="519.95" y="300.1">8</text></g>

<!-- Time axis -->
<g id="connectors">
<line x1="37.5" y1="316.7" x2="107.5" y2="316.7" stroke="#555" stroke-width="1.3" marker-end="url(#ah)"/>
</g>
<g id="time-label"><text x="68.5" y="331" font-size="11">Time</text></g>

<!-- Legend -->
<g id="legend" class="leg">
<g id="leg-forward" class="F"><rect x="583" y="178" width="16" height="6"/><text x="604" y="184.8">Forward</text></g>
<g id="leg-backward" class="G"><rect x="583" y="207.5" width="16" height="6"/><text x="604" y="214.3">Backward</text></g>
<g id="leg-b" class="P"><rect x="583" y="236.8" width="16" height="6"/><text x="606" y="243.6">B</text></g>
<g id="leg-w" class="W"><rect x="583" y="266" width="16" height="6"/><text x="606" y="272.8">W</text></g>
<g id="leg-opt"><rect x="583" y="294" width="16" height="6" fill="#555" stroke="#555"/><text x="604" y="300.8">Optimizer step</text></g>
</g>
</svg>
